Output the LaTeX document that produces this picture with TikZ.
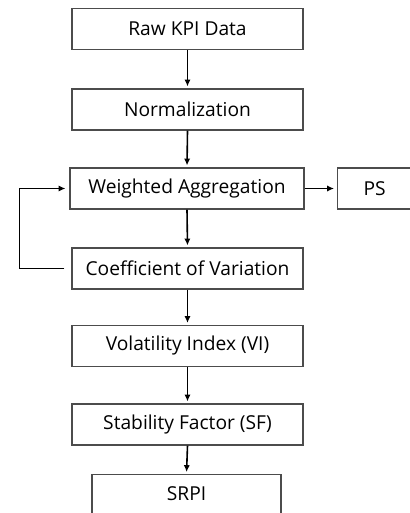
\documentclass[tikz,border=0pt]{standalone}
\usepackage{fontspec}
\setmainfont{Open Sans}
\usetikzlibrary{arrows.meta}

\begin{document}
\begin{tikzpicture}[x=1pt, y=-1pt, every node/.style={font=\fontsize{19.2}{21}\selectfont},
	box/.style={draw=black!70, line width=1.1pt, minimum width=231pt, minimum height=41pt, inner sep=0pt},
	>={Latex[length=2.4mm, width=2.2mm]}]
	\useasboundingbox (0,0) rectangle (409,513);
	\node[box] (raw) at (187.5,29) {Raw KPI Data};
	\node[box] (norm) at (187.5,109.5) {Normalization};
	\node[box, minimum width=234pt] (wagg) at (187,188.5) {Weighted Aggregation};
	\node[box, minimum width=74pt, anchor=west] (ps) at (337,188.5) {PS};
	\node[box] (cov) at (187.5,268.5) {Coefficient of Variation};
	\node[box] (vi) at (187.5,346) {Volatility Index (VI)};
	\node[box] (sf) at (187.5,424.5) {Stability Factor (SF)};
	\node[box, minimum width=189pt, minimum height=42pt, anchor=north] (srpi) at (186.5,474) {};
	\node at (186.5,494) {SRPI};
	% main chain
	\foreach \a/\b in {raw/norm, norm/wagg, wagg/cov, cov/vi, vi/sf, sf/srpi} {
		\draw[->, line width=1.6pt, shorten >=2pt] (\a.south) -- (\b.north);
	}
	\draw[->, line width=1.6pt, shorten >=3pt] (wagg.east) -- (ps.west);
	% feedback loop
	\draw[->, line width=1.6pt, shorten <=7pt, shorten >=4pt] (cov.west) -- ++(-52,0) |- (wagg.west);
\end{tikzpicture}
\end{document}
